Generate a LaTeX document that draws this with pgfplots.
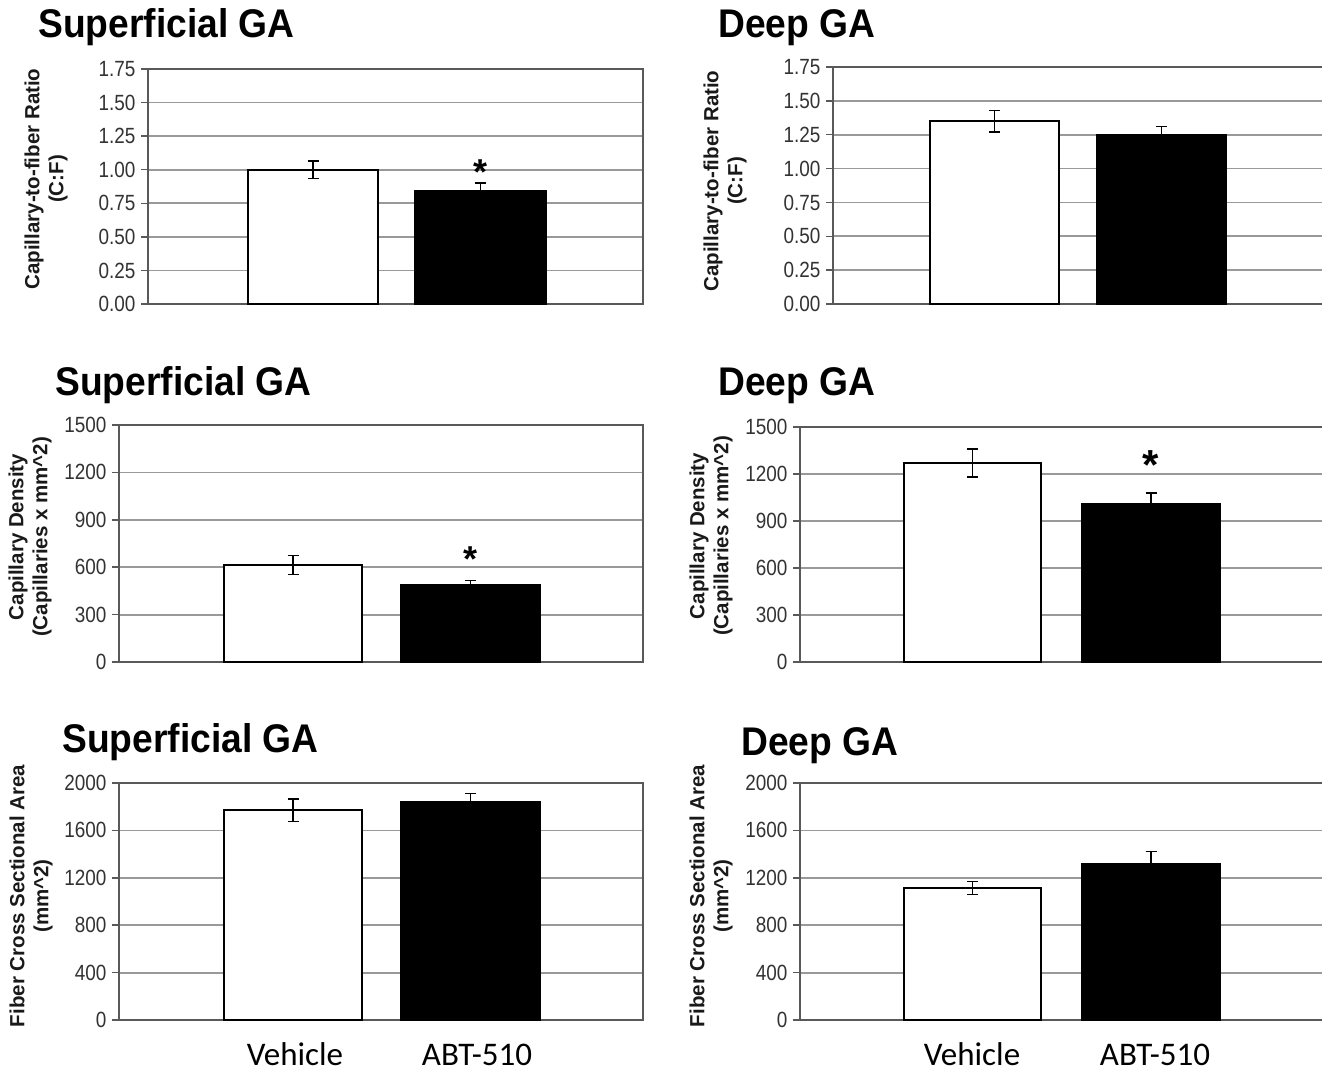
\documentclass[border=0pt]{standalone}
\usepackage{pgfplots}
\pgfplotsset{compat=1.18}
\usepackage{fontspec}
\setmainfont{Liberation Sans}
\newfontfamily\calfont{Carlito}
\newfontfamily\titlefam[FakeStretch=0.93]{Liberation Sans}
\newfontfamily\tickfam[FakeStretch=0.86]{Liberation Sans}
\newcommand\titlef{\titlefam\fontsize{40}{42}\selectfont\bfseries}
\newcommand\labf{\fontsize{20.5}{24}\selectfont\bfseries}
\newcommand\tickf{\tickfam\fontsize{22}{24}\selectfont}
\newcommand\catf{\calfont\fontsize{33}{36}\selectfont}
\newcommand\starf{\fontsize{36}{36}\selectfont\bfseries}
\definecolor{framec}{gray}{0.35}
\definecolor{gridc}{gray}{0.6}
\pgfplotsset{
  panel/.style={
    scale only axis,
    anchor=south west,
    enlargelimits=false,
    xmin=0, ymin=0,
    xtick=\empty,
    ytick pos=left,
    axis line style={draw=framec, line width=1.8pt},
    tick align=outside,
    major tick length=7pt,
    ytick style={draw=framec, line width=1.5pt},
    ymajorgrids,
    grid style={draw=gridc, line width=1.8pt},
    yticklabel style={font=\tickf, text=black!80, xshift=-2pt,
      /pgf/number format/assume math mode=true,
      /pgf/number format/1000 sep={}},
    clip=false,
  },
  wbar/.style={ybar, bar shift=0pt, fill=white, draw=black, line width=1.6pt,
    error bars/.cd, y dir=both, y explicit,
    error bar style={line width=1.5pt, black},
    error mark options={rotate=90, mark size=5.5pt, line width=1.5pt, black},
    /pgfplots/.cd},
  kbar/.style={ybar, bar shift=0pt, fill=black, draw=black, line width=1.6pt,
    error bars/.cd, y dir=plus, y explicit,
    error bar style={line width=1.5pt, black},
    error mark options={rotate=90, mark size=5.5pt, line width=1.5pt, black},
    /pgfplots/.cd},
  twodec/.style={yticklabel style={/pgf/number format/.cd, fixed, fixed zerofill, precision=2}},
}
\begin{document}
\begin{tikzpicture}[x=1pt,y=1pt]
\useasboundingbox (0,0) rectangle (1322,-1071);
\clip (0,0) rectangle (1322,-1071);
\fill[white] (0,0) rectangle (1322,-1071);

% ---------- Panel 1: Superficial GA, C:F ----------
\node[anchor=base west, font=\titlef, inner sep=0pt] at (38,-37) {Superficial GA};
\node[rotate=90, align=center, font=\labf, text=black!90] at (46,-179) {Capillary-to-fiber Ratio\\(C:F)};
\begin{axis}[panel, twodec, at={(148pt,-304pt)}, width=495pt, height=235pt,
  xmax=495, ymax=1.75, ytick={0,0.25,0.5,0.75,1,1.25,1.5,1.75}]
\addplot[bar width=130pt, wbar] coordinates {(165,1.00) +- (0,0.065)};
\addplot[bar width=131pt, kbar] coordinates {(332.5,0.84) +- (0,0.06)};
\node[font=\starf, anchor=base] at (axis cs:332.5,0.89) {*};
\end{axis}

% ---------- Panel 2: Deep GA, C:F ----------
\node[anchor=base west, font=\titlef, inner sep=0pt] at (718,-37) {Deep GA};
\node[rotate=90, align=center, font=\labf, text=black!90] at (725,-181) {Capillary-to-fiber Ratio\\(C:F)};
\begin{axis}[panel, twodec, at={(833pt,-304pt)}, width=490pt, height=237pt,
  xmax=490, ymax=1.75, ytick={0,0.25,0.5,0.75,1,1.25,1.5,1.75}]
\addplot[bar width=129pt, wbar] coordinates {(161.5,1.35) +- (0,0.08)};
\addplot[bar width=129pt, kbar] coordinates {(328.5,1.25) +- (0,0.06)};
\end{axis}

% ---------- Panel 3: Superficial GA, density ----------
\node[anchor=base west, font=\titlef, inner sep=0pt] at (55,-395) {Superficial GA};
\node[rotate=90, align=center, font=\labf, text=black!90] at (30,-537) {Capillary Density\\(Capillaries x mm\^{}2)};
\begin{axis}[panel, at={(119pt,-662pt)}, width=524pt, height=237pt,
  xmax=524, ymax=1500, ytick={0,300,600,900,1200,1500}]
\addplot[bar width=138pt, wbar] coordinates {(174,615) +- (0,60)};
\addplot[bar width=139pt, kbar] coordinates {(351.5,490) +- (0,25)};
\node[font=\starf, anchor=base] at (axis cs:351.5,570) {*};
\end{axis}

% ---------- Panel 4: Deep GA, density ----------
\node[anchor=base west, font=\titlef, inner sep=0pt] at (718,-395) {Deep GA};
\node[rotate=90, align=center, font=\labf, text=black!90] at (711,-536) {Capillary Density\\(Capillaries x mm\^{}2)};
\begin{axis}[panel, at={(800pt,-662pt)}, width=523pt, height=235pt,
  xmax=523, ymax=1500, ytick={0,300,600,900,1200,1500}]
\addplot[bar width=137pt, wbar] coordinates {(172.5,1270) +- (0,90)};
\addplot[bar width=138pt, kbar] coordinates {(351,1010) +- (0,70)};
\node[font=\fontsize{42}{42}\selectfont\bfseries, anchor=base] at (axis cs:351,1165) {*};
\end{axis}

% ---------- Panel 5: Superficial GA, FCSA ----------
\node[anchor=base west, font=\titlef, inner sep=0pt] at (62,-752) {Superficial GA};
\node[rotate=90, align=center, font=\labf, text=black!90] at (31,-896) {Fiber Cross Sectional Area\\(mm\^{}2)};
\begin{axis}[panel, at={(119pt,-1020pt)}, width=524pt, height=237pt,
  xmax=524, ymax=2000, ytick={0,400,800,1200,1600,2000}]
\addplot[bar width=138pt, wbar] coordinates {(174,1770) +- (0,95)};
\addplot[bar width=139pt, kbar] coordinates {(351.5,1840) +- (0,70)};
\node[font=\catf, anchor=base] at (axis cs:176,0) [yshift=-45pt] {Vehicle};
\node[font=\catf, anchor=base] at (axis cs:358,0) [yshift=-45pt] {ABT-510};
\end{axis}

% ---------- Panel 6: Deep GA, FCSA ----------
\node[anchor=base west, font=\titlef, inner sep=0pt] at (741,-755) {Deep GA};
\node[rotate=90, align=center, font=\labf, text=black!90] at (711,-896) {Fiber Cross Sectional Area\\(mm\^{}2)};
\begin{axis}[panel, at={(800pt,-1020pt)}, width=523pt, height=237pt,
  xmax=523, ymax=2000, ytick={0,400,800,1200,1600,2000}]
\addplot[bar width=137pt, wbar] coordinates {(172.5,1115) +- (0,55)};
\addplot[bar width=138pt, kbar] coordinates {(351,1320) +- (0,100)};
\node[font=\catf, anchor=base] at (axis cs:172,0) [yshift=-45pt] {Vehicle};
\node[font=\catf, anchor=base] at (axis cs:355,0) [yshift=-45pt] {ABT-510};
\end{axis}
\end{tikzpicture}
\end{document}
